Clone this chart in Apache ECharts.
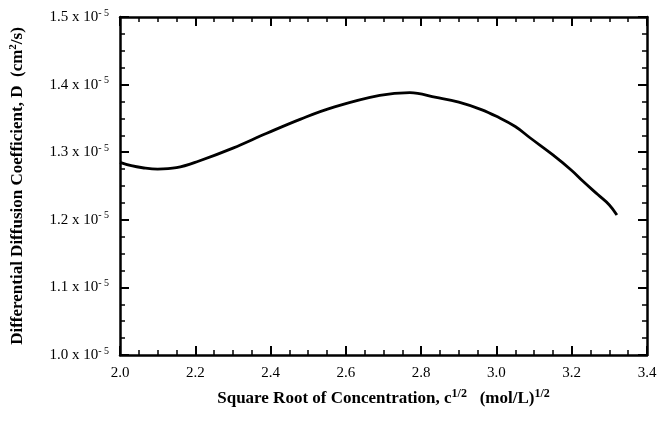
<!DOCTYPE html>
<html lang="en">
<head>
    <meta charset="utf-8">
    <style>
        html, body {
            margin: 0px;
            padding: 0px;
            width: 100%;
            height: 100%;
            background-color: #fff;
        }

        #chart {
            width: 660px;
            height: 429px;
        }
    </style>
    <script src="https://cdn.jsdelivr.net/npm/echarts@6/dist/echarts.min.js"></script>
</head>
<body>
<div id="chart"></div>
<script type="text/javascript">
    // sqrt(c), (mol/L)^1/2
    var sqrtConc = [2.00, 2.03, 2.06, 2.10, 2.15, 2.21, 2.30, 2.39, 2.48, 2.57, 2.69, 2.77, 2.84, 2.90, 2.96, 3.00, 3.05, 3.09, 3.15, 3.20, 3.23, 3.27, 3.30, 3.32];
    // D in units of 1e-5 cm^2/s
    var diffCoef = [1.285, 1.280, 1.277, 1.275, 1.277, 1.287, 1.306, 1.328, 1.349, 1.367, 1.384, 1.388, 1.381, 1.374, 1.363, 1.353, 1.338, 1.321, 1.296, 1.273, 1.257, 1.237, 1.222, 1.207];

    var myChart = echarts.init(document.getElementById('chart'));

    var points = [];
    for (var i in sqrtConc) {
        points.push([sqrtConc[i], diffCoef[i]]);
    }

    var serif = '"Liberation Serif", "DejaVu Serif", serif';
    var tickStyle = {show: true, inside: true, length: 9, lineStyle: {color: '#000', width: 2}};
    var minorStyle = {show: true, splitNumber: 4, length: 5, lineStyle: {color: '#000', width: 1.5}};
    var lineStyle = {show: true, lineStyle: {color: '#000', width: 2.5}};

    var option = {
        animation: false,
        grid: {left: 119, top: 17, right: 13, bottom: 74},
        xAxis: [{
            type: 'value',
            min: 2.0,
            max: 3.4,
            interval: 0.2,
            axisLine: lineStyle,
            axisTick: tickStyle,
            minorTick: minorStyle,
            splitLine: {show: false},
            axisLabel: {
                color: '#000',
                fontFamily: serif,
                fontSize: 15,
                margin: 11,
                formatter: function (v) { return v.toFixed(1); }
            },
            name: '{b|Square Root of Concentration, c}{s|1/2}{b|   (mol/L)}{s|1/2}',
            nameLocation: 'middle',
            nameGap: 33,
            nameTextStyle: {
                rich: {
                    b: {fontFamily: serif, fontWeight: 'bold', fontSize: 17, color: '#000'},
                    s: {fontFamily: serif, fontWeight: 'bold', fontSize: 12, color: '#000', verticalAlign: 'top', padding: [0, 0, 9, 0]}
                }
            }
        }, {
            type: 'value',
            position: 'top',
            min: 2.0,
            max: 3.4,
            interval: 0.2,
            axisLine: lineStyle,
            axisTick: tickStyle,
            minorTick: minorStyle,
            splitLine: {show: false},
            axisLabel: {show: false}
        }],
        yAxis: [{
            type: 'value',
            min: 1.0,
            max: 1.5,
            interval: 0.1,
            axisLine: lineStyle,
            axisTick: tickStyle,
            minorTick: minorStyle,
            splitLine: {show: false},
            axisLabel: {
                margin: 11,
                formatter: function (v) { return '{a|' + v.toFixed(1) + ' x 10}{s|- 5}'; },
                rich: {
                    a: {fontFamily: serif, fontSize: 15, color: '#000'},
                    s: {fontFamily: serif, fontSize: 10, color: '#000', verticalAlign: 'top', padding: [0, 0, 8, 0]}
                }
            },
            name: '{b|Differential Diffusion Coefficient, D  (cm}{s|2}{b|/s)}',
            nameLocation: 'middle',
            nameRotate: 90,
            nameGap: 93,
            nameTextStyle: {
                rich: {
                    b: {fontFamily: serif, fontWeight: 'bold', fontSize: 17, color: '#000'},
                    s: {fontFamily: serif, fontWeight: 'bold', fontSize: 11, color: '#000', verticalAlign: 'top', padding: [0, 0, 8, 0]}
                }
            }
        }, {
            type: 'value',
            position: 'right',
            min: 1.0,
            max: 1.5,
            interval: 0.1,
            axisLine: lineStyle,
            axisTick: tickStyle,
            minorTick: minorStyle,
            splitLine: {show: false},
            axisLabel: {show: false}
        }],
        series: [{
            type: 'line',
            data: points,
            smooth: 0.4,
            showSymbol: false,
            lineStyle: {color: '#000', width: 2.8}
        }]
    };

    myChart.setOption(option, true);
</script>
</body>
</html>
